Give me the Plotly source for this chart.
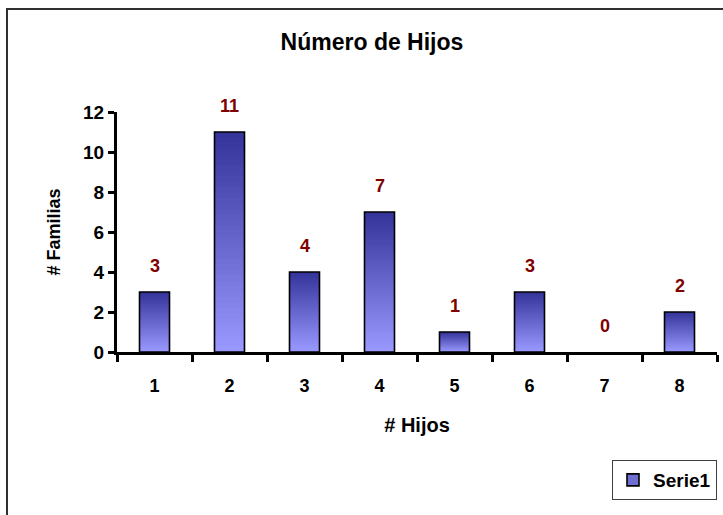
import plotly.graph_objects as go

categories = ["1", "2", "3", "4", "5", "6", "7", "8"]
values = [3, 11, 4, 7, 1, 3, 0, 2]
y_ticks = [0, 2, 4, 6, 8, 10, 12]
series_name = "Serie1"

TOP = (51, 51, 153)
BOT = (153, 153, 255)
N = 40
FONT = "Liberation Sans, Arial, sans-serif"

fig = go.Figure()

# gradient bars: each slice runs from its base to the bar top, drawn bottom-up
for i in range(N):
    t = (i + 0.5) / N
    c = tuple(round(BOT[k] + (TOP[k] - BOT[k]) * t) for k in range(3))
    fig.add_trace(go.Bar(
        x=categories,
        y=[v * (1 - i / N) if v else None for v in values],
        base=[v * i / N for v in values],
        width=0.4,
        marker=dict(color="rgb(%d,%d,%d)" % c, line=dict(width=0)),
        showlegend=False, hoverinfo="skip"))

# outline
fig.add_trace(go.Bar(
    x=categories, y=[v if v else None for v in values], width=0.4,
    marker=dict(color="rgba(0,0,0,0)", line=dict(color="black", width=1.6)),
    showlegend=False, hoverinfo="skip"))

# legend entry
fig.add_trace(go.Bar(
    x=categories, y=[None] * len(categories), name=series_name,
    marker=dict(color="rgb(110,110,210)", line=dict(color="black", width=1.6)),
    showlegend=True))

for i, v in enumerate(values):
    fig.add_annotation(x=i, y=v, text=str(v), showarrow=False, yshift=26,
                       yanchor="middle",
                       font=dict(family=FONT, size=18, color="#800000", weight="bold"))

fig.update_layout(
    width=723, height=515,
    margin=dict(l=117, r=6, t=112, b=163),
    paper_bgcolor="white", plot_bgcolor="white",
    barmode="overlay",
    font=dict(family=FONT, size=18, color="black", weight="bold"),
    title=dict(text="Número de Hijos", x=0.5145, xref="container", xanchor="center",
               y=1 - 42 / 515, yref="container", yanchor="middle",
               font=dict(family=FONT, size=23, color="black", weight="bold")),
    legend=dict(x=1.0, xanchor="right", y=-0.45, yanchor="top",
                bordercolor="#404040", borderwidth=1, bgcolor="white",
                font=dict(family=FONT, size=19, color="black", weight="bold")),
    xaxis=dict(type="category", range=[-0.5, 7.5], tickson="boundaries",
               ticks="outside", ticklen=7, tickwidth=3, tickcolor="black",
               showline=True, linewidth=3, linecolor="black", showgrid=False,
               ticklabelstandoff=15, automargin=False,
               tickfont=dict(family=FONT, size=18, weight="bold"),
               title=dict(text="# Hijos", standoff=24,
                          font=dict(family=FONT, size=20, weight="bold"))),
    yaxis=dict(range=[0, 12], tickvals=y_ticks, ticks="outside", ticklen=6,
               tickwidth=3, tickcolor="black", showline=True, linewidth=3,
               linecolor="black", showgrid=False, zeroline=False, automargin=False,
               tickfont=dict(family=FONT, size=19, weight="bold"),
               title=dict(text="# Familias", standoff=18,
                          font=dict(family=FONT, size=18, weight="bold"))),
)

fig.add_shape(type="rect", xref="paper", yref="paper",
              x0=-110 / 600, x1=1.05, y0=-0.8, y1=343 / 240,
              line=dict(color="#303030", width=2), layer="below")

fig.write_html("out.html", config={"displayModeBar": False},
               post_script="document.body.style.margin='0';document.body.style.overflow='hidden';")
